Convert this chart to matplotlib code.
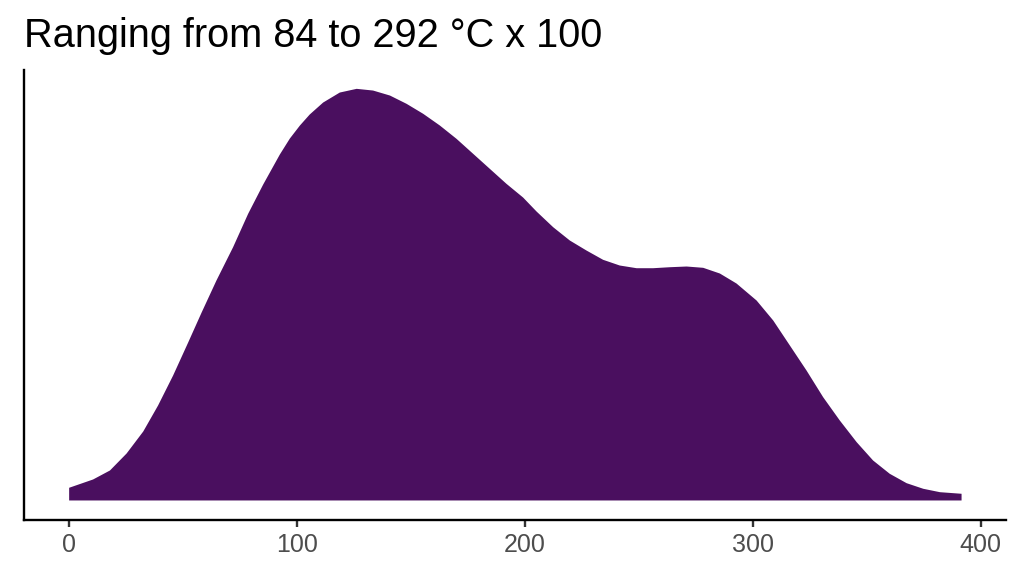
import matplotlib
matplotlib.use('Agg')
import matplotlib.pyplot as plt

# density curve (x in units, height in arbitrary density units)
temp = [0.0, 10.5, 17.9, 25.2, 32.5, 39.0, 45.6, 52.2, 58.1, 64.6, 71.9, 78.5,
        85.1, 92.4, 96.8, 101.2, 105.5, 111.4, 118.7, 126.1, 133.3, 140.7, 148.0,
        155.3, 162.6, 169.9, 177.2, 184.5, 191.8, 199.1, 205.0, 212.3, 219.6,
        226.9, 234.2, 241.5, 248.9, 256.1, 263.5, 270.8, 278.1, 285.4, 292.7,
        301.5, 308.8, 316.1, 323.4, 330.7, 338.0, 345.4, 352.6, 359.9, 367.3,
        374.6, 381.9, 391.4]
density = [0.127, 0.210, 0.300, 0.470, 0.690, 0.950, 1.250, 1.580, 1.880, 2.200, 2.533, 2.867,
           3.160, 3.460, 3.620, 3.750, 3.860, 3.980, 4.080, 4.117, 4.100, 4.050, 3.967,
           3.867, 3.750, 3.617, 3.467, 3.317, 3.167, 3.030, 2.890, 2.733, 2.600,
           2.500, 2.407, 2.350, 2.323, 2.323, 2.333, 2.340, 2.327, 2.270, 2.170,
           2.000, 1.800, 1.550, 1.300, 1.033, 0.800, 0.583, 0.400, 0.267, 0.173,
           0.117, 0.083, 0.067]
xticks = [0, 100, 200, 300, 400]
title = 'Ranging from 84 to 292 °C x 100'

plt.rcParams['font.family'] = ['Liberation Sans', 'DejaVu Sans']

fig = plt.figure(figsize=(10.24, 5.76), dpi=100)
ax = fig.add_axes([0.0234, 0.0964, 0.9590, 0.7820])

ax.fill_between(temp, 0, density, color='#4A0F5F', linewidth=0)

ax.set_xlim(-19.6, 411.1)
ax.set_ylim(-0.205, 4.30)
ax.set_xticks(xticks)
ax.set_xticklabels([str(t) for t in xticks])
ax.set_yticks([])

for s in ['top', 'right']:
    ax.spines[s].set_visible(False)
for s in ['left', 'bottom']:
    ax.spines[s].set_linewidth(1.7)
    ax.spines[s].set_color('black')
ax.tick_params(axis='x', length=5, width=1.7, color='#333333',
               labelsize=18, labelcolor='#4D4D4D', pad=4)

fig.text(24 / 1024, 1 - 47 / 576, title, fontsize=28.6, color='black',
         ha='left', va='baseline')

fig.savefig('out.png', dpi=100)
